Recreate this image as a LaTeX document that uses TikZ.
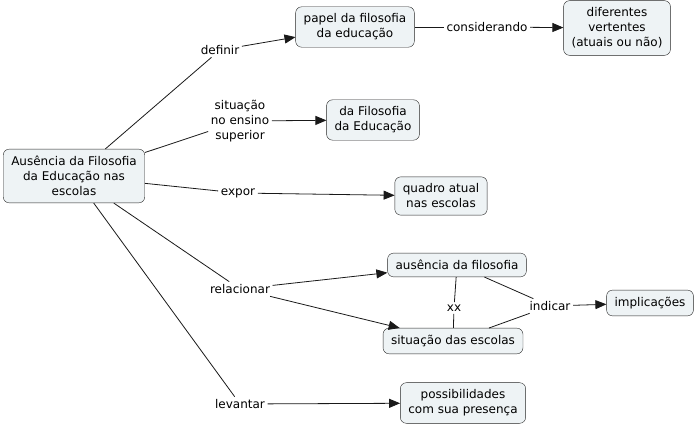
\documentclass[tikz,border=0pt]{standalone}
\usepackage{fontspec}
\setmainfont{DejaVu Sans}
\usepackage{tikz}
\usetikzlibrary{arrows.meta}

\definecolor{cmapfill}{HTML}{EEF3F5}

\begin{document}
\begin{tikzpicture}[x=1pt,y=-1pt,>={Triangle[length=11pt,width=9pt]},
        concept/.style={draw=black!85, fill=cmapfill, rounded corners=6pt, align=center,
            inner xsep=8pt, inner ysep=7pt, font=\fontsize{12}{15}\selectfont},
        linking/.style={align=center, inner sep=2.5pt, font=\fontsize{12}{15}\selectfont},
        link/.style={draw=black!90, line width=0.8pt}]
        \useasboundingbox (0,0) rectangle (696,427);

        % concepts
        \node[concept] (ausencia) at (74,176) {Ausência da Filosofia\\da Educação nas\\escolas};
        \node[concept] (papel) at (355,27) {papel da filosofia\\da educação};
        \node[concept] (vertentes) at (617,28) {diferentes\\vertentes\\(atuais ou não)};
        \node[concept] (filosofia) at (373,120) {da Filosofia\\da Educação};
        \node[concept] (quadro) at (441,196) {quadro atual\\nas escolas};
        \node[concept] (ausfil) at (457,265) {ausência da filosofia};
        \node[concept] (escolas) at (453,341) {situação das escolas};
        \node[concept] (implic) at (650,303) {implicações};
        \node[concept] (possib) at (463,403) {possibilidades\\com sua presença};

        % linking phrases
        \node[linking] (definir) at (220,50) {definir};
        \node[linking] (consid) at (487,27) {considerando};
        \node[linking] (situacao) at (240,121) {situação\\no ensino\\superior};
        \node[linking] (expor) at (238,193) {expor};
        \node[linking] (relac) at (240,289) {relacionar};
        \node[linking] (xx) at (454,308) {xx};
        \node[linking] (indicar) at (550,306) {indicar};
        \node[linking] (levantar) at (240,404) {levantar};

        % connections
        \draw[link] (ausencia) -- (definir);
        \draw[link, ->] (definir) -- (papel);
        \draw[link] (papel) -- (consid);
        \draw[link, ->] (consid) -- (vertentes);
        \draw[link] (ausencia) -- (situacao);
        \draw[link, ->] (situacao) -- (filosofia);
        \draw[link] (ausencia) -- (expor);
        \draw[link, ->] (expor) -- (quadro);
        \draw[link] (ausencia) -- (relac);
        \draw[link, ->] (relac) -- (ausfil);
        \draw[link, ->] (relac) -- (escolas);
        \draw[link] (ausfil) -- (xx);
        \draw[link] (escolas) -- (xx);
        \draw[link] (ausfil) -- (indicar);
        \draw[link] (escolas) -- (indicar);
        \draw[link, ->] (indicar) -- (implic);
        \draw[link] (ausencia) -- (levantar);
        \draw[link, ->] (levantar) -- (possib);
    \end{tikzpicture}
\end{document}
